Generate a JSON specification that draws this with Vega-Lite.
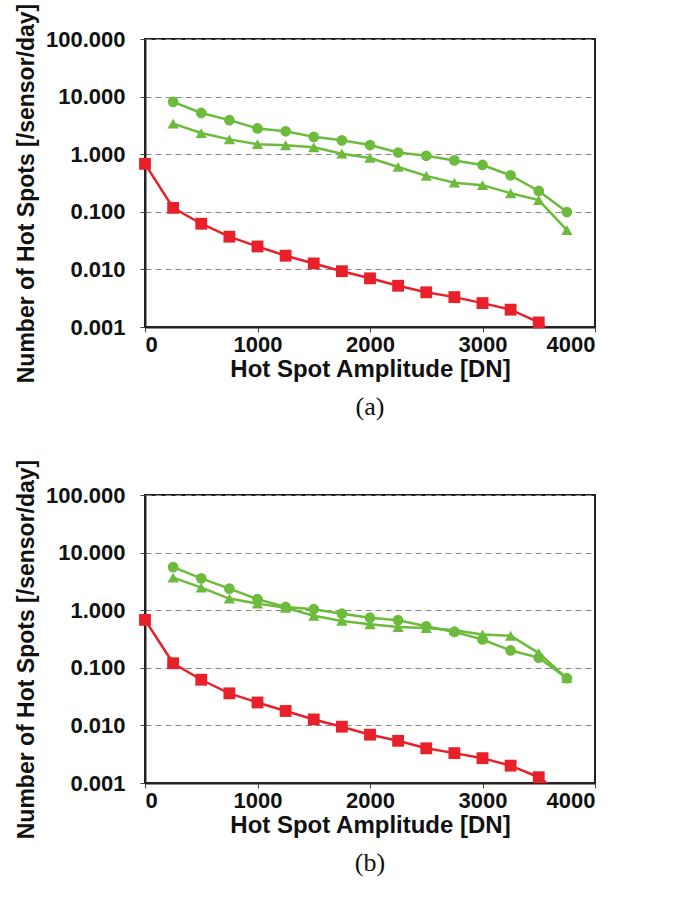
{
  "$schema": "https://vega.github.io/schema/vega-lite/v6.json",
  "background": "white",
  "padding": {"left": 14, "top": 2, "right": 5, "bottom": 5},
  "spacing": 37,
  "config": {
    "font": "Liberation Sans",
    "view": {"stroke": "#222222", "strokeWidth": 2},
    "axis": {
      "labelFont": "Liberation Sans",
      "labelFontSize": 22,
      "labelFontWeight": "bold",
      "labelColor": "#111111",
      "titleFont": "Liberation Sans",
      "titleFontSize": 24,
      "titleFontWeight": "bold",
      "titleColor": "#111111",
      "domainColor": "#222222",
      "domainWidth": 2,
      "tickColor": "#444444",
      "tickSize": 5
    },
    "axisX": {"labelPadding": 2, "titlePadding": 2, "format": "d"},
    "axisY": {"labelPadding": 15, "titlePadding": 7, "titleY": 154, "titleFontSize": 23, "format": ".3f"}
  },
  "datasets": {
    "a": [
      {"series": "Series 1", "amplitude": 250, "count": 8.1},
      {"series": "Series 1", "amplitude": 500, "count": 5.2},
      {"series": "Series 1", "amplitude": 750, "count": 3.9},
      {"series": "Series 1", "amplitude": 1000, "count": 2.8},
      {"series": "Series 1", "amplitude": 1250, "count": 2.5},
      {"series": "Series 1", "amplitude": 1500, "count": 2.0},
      {"series": "Series 1", "amplitude": 1750, "count": 1.74},
      {"series": "Series 1", "amplitude": 2000, "count": 1.44},
      {"series": "Series 1", "amplitude": 2250, "count": 1.07},
      {"series": "Series 1", "amplitude": 2500, "count": 0.94},
      {"series": "Series 1", "amplitude": 2750, "count": 0.78},
      {"series": "Series 1", "amplitude": 3000, "count": 0.65},
      {"series": "Series 1", "amplitude": 3250, "count": 0.43},
      {"series": "Series 1", "amplitude": 3500, "count": 0.23},
      {"series": "Series 1", "amplitude": 3750, "count": 0.099},
      {"series": "Series 2", "amplitude": 250, "count": 3.4},
      {"series": "Series 2", "amplitude": 500, "count": 2.33},
      {"series": "Series 2", "amplitude": 750, "count": 1.81},
      {"series": "Series 2", "amplitude": 1000, "count": 1.49},
      {"series": "Series 2", "amplitude": 1250, "count": 1.43},
      {"series": "Series 2", "amplitude": 1500, "count": 1.32},
      {"series": "Series 2", "amplitude": 1750, "count": 1.02},
      {"series": "Series 2", "amplitude": 2000, "count": 0.86},
      {"series": "Series 2", "amplitude": 2250, "count": 0.6},
      {"series": "Series 2", "amplitude": 2500, "count": 0.42},
      {"series": "Series 2", "amplitude": 2750, "count": 0.32},
      {"series": "Series 2", "amplitude": 3000, "count": 0.29},
      {"series": "Series 2", "amplitude": 3250, "count": 0.21},
      {"series": "Series 2", "amplitude": 3500, "count": 0.16},
      {"series": "Series 2", "amplitude": 3750, "count": 0.048},
      {"series": "Series 3", "amplitude": 0, "count": 0.68},
      {"series": "Series 3", "amplitude": 250, "count": 0.117},
      {"series": "Series 3", "amplitude": 500, "count": 0.062},
      {"series": "Series 3", "amplitude": 750, "count": 0.037},
      {"series": "Series 3", "amplitude": 1000, "count": 0.025},
      {"series": "Series 3", "amplitude": 1250, "count": 0.0173},
      {"series": "Series 3", "amplitude": 1500, "count": 0.0127},
      {"series": "Series 3", "amplitude": 1750, "count": 0.0093},
      {"series": "Series 3", "amplitude": 2000, "count": 0.007},
      {"series": "Series 3", "amplitude": 2250, "count": 0.0052},
      {"series": "Series 3", "amplitude": 2500, "count": 0.004},
      {"series": "Series 3", "amplitude": 2750, "count": 0.0033},
      {"series": "Series 3", "amplitude": 3000, "count": 0.0026},
      {"series": "Series 3", "amplitude": 3250, "count": 0.002},
      {"series": "Series 3", "amplitude": 3500, "count": 0.0012},
      {"series": "Series 3", "amplitude": 3750, "count": 0.00055}
    ],
    "b": [
      {"series": "Series 1", "amplitude": 250, "count": 5.6},
      {"series": "Series 1", "amplitude": 500, "count": 3.57},
      {"series": "Series 1", "amplitude": 750, "count": 2.37},
      {"series": "Series 1", "amplitude": 1000, "count": 1.55},
      {"series": "Series 1", "amplitude": 1250, "count": 1.14},
      {"series": "Series 1", "amplitude": 1500, "count": 1.04},
      {"series": "Series 1", "amplitude": 1750, "count": 0.87},
      {"series": "Series 1", "amplitude": 2000, "count": 0.74},
      {"series": "Series 1", "amplitude": 2250, "count": 0.67},
      {"series": "Series 1", "amplitude": 2500, "count": 0.525},
      {"series": "Series 1", "amplitude": 2750, "count": 0.42},
      {"series": "Series 1", "amplitude": 3000, "count": 0.31},
      {"series": "Series 1", "amplitude": 3250, "count": 0.2},
      {"series": "Series 1", "amplitude": 3500, "count": 0.15},
      {"series": "Series 1", "amplitude": 3750, "count": 0.066},
      {"series": "Series 2", "amplitude": 250, "count": 3.67},
      {"series": "Series 2", "amplitude": 500, "count": 2.46},
      {"series": "Series 2", "amplitude": 750, "count": 1.59},
      {"series": "Series 2", "amplitude": 1000, "count": 1.3},
      {"series": "Series 2", "amplitude": 1250, "count": 1.1},
      {"series": "Series 2", "amplitude": 1500, "count": 0.8},
      {"series": "Series 2", "amplitude": 1750, "count": 0.65},
      {"series": "Series 2", "amplitude": 2000, "count": 0.57},
      {"series": "Series 2", "amplitude": 2250, "count": 0.51},
      {"series": "Series 2", "amplitude": 2500, "count": 0.49},
      {"series": "Series 2", "amplitude": 2750, "count": 0.45},
      {"series": "Series 2", "amplitude": 3000, "count": 0.38},
      {"series": "Series 2", "amplitude": 3250, "count": 0.36},
      {"series": "Series 2", "amplitude": 3500, "count": 0.18},
      {"series": "Series 2", "amplitude": 3750, "count": 0.066},
      {"series": "Series 3", "amplitude": 0, "count": 0.68},
      {"series": "Series 3", "amplitude": 250, "count": 0.12},
      {"series": "Series 3", "amplitude": 500, "count": 0.062},
      {"series": "Series 3", "amplitude": 750, "count": 0.036},
      {"series": "Series 3", "amplitude": 1000, "count": 0.025},
      {"series": "Series 3", "amplitude": 1250, "count": 0.0178},
      {"series": "Series 3", "amplitude": 1500, "count": 0.0127},
      {"series": "Series 3", "amplitude": 1750, "count": 0.0095},
      {"series": "Series 3", "amplitude": 2000, "count": 0.0069},
      {"series": "Series 3", "amplitude": 2250, "count": 0.0054},
      {"series": "Series 3", "amplitude": 2500, "count": 0.004},
      {"series": "Series 3", "amplitude": 2750, "count": 0.0033},
      {"series": "Series 3", "amplitude": 3000, "count": 0.0027},
      {"series": "Series 3", "amplitude": 3250, "count": 0.002},
      {"series": "Series 3", "amplitude": 3500, "count": 0.00126},
      {"series": "Series 3", "amplitude": 3750, "count": 0.00055}
    ]
  },
  "vconcat": [
    {
      "width": 450,
      "height": 288,
      "data": {"name": "a"},
      "title": {"text": "(a)", "orient": "bottom", "font": "Liberation Serif", "fontSize": 26, "fontWeight": "normal", "color": "#111111", "offset": 11},
      "encoding": {
        "x": {"field": "amplitude", "type": "quantitative", "scale": {"domain": [0, 4000]}, "axis": {"values": [0, 1000, 2000, 3000, 4000], "title": "Hot Spot Amplitude [DN]", "grid": false}},
        "y": {"field": "count", "type": "quantitative", "scale": {"type": "log", "domain": [0.001, 100]}, "axis": {"values": [0.001, 0.01, 0.1, 1, 10, 100], "title": "Number of Hot Spots [/sensor/day]", "grid": true, "gridDash": [6, 4], "gridColor": "#888888", "gridWidth": 1.2}},
        "color": {"field": "series", "type": "nominal", "scale": {"domain": ["Series 1", "Series 2", "Series 3"], "range": ["#6cbb3c", "#6cbb3c", "#e8202a"]}, "legend": null}
      },
      "layer": [
        {"mark": {"type": "line", "strokeWidth": 2.5, "clip": true}},
        {"transform": [{"filter": "datum.count >= 0.001"}],
         "mark": {"type": "point", "filled": true, "opacity": 1, "clip": false},
         "encoding": {
           "shape": {"field": "series", "type": "nominal", "scale": {"domain": ["Series 1", "Series 2", "Series 3"], "range": ["circle", "triangle-up", "square"]}, "legend": null},
           "size": {"field": "series", "type": "nominal", "scale": {"domain": ["Series 1", "Series 2", "Series 3"], "range": [115, 140, 90]}, "legend": null}}}
      ]
    },
    {
      "width": 450,
      "height": 288,
      "data": {"name": "b"},
      "title": {"text": "(b)", "orient": "bottom", "font": "Liberation Serif", "fontSize": 26, "fontWeight": "normal", "color": "#111111", "offset": 11},
      "encoding": {
        "x": {"field": "amplitude", "type": "quantitative", "scale": {"domain": [0, 4000]}, "axis": {"values": [0, 1000, 2000, 3000, 4000], "title": "Hot Spot Amplitude [DN]", "grid": false}},
        "y": {"field": "count", "type": "quantitative", "scale": {"type": "log", "domain": [0.001, 100]}, "axis": {"values": [0.001, 0.01, 0.1, 1, 10, 100], "title": "Number of Hot Spots [/sensor/day]", "grid": true, "gridDash": [6, 4], "gridColor": "#888888", "gridWidth": 1.2}},
        "color": {"field": "series", "type": "nominal", "scale": {"domain": ["Series 1", "Series 2", "Series 3"], "range": ["#6cbb3c", "#6cbb3c", "#e8202a"]}, "legend": null}
      },
      "layer": [
        {"mark": {"type": "line", "strokeWidth": 2.5, "clip": true}},
        {"transform": [{"filter": "datum.count >= 0.001"}],
         "mark": {"type": "point", "filled": true, "opacity": 1, "clip": false},
         "encoding": {
           "shape": {"field": "series", "type": "nominal", "scale": {"domain": ["Series 1", "Series 2", "Series 3"], "range": ["circle", "triangle-up", "square"]}, "legend": null},
           "size": {"field": "series", "type": "nominal", "scale": {"domain": ["Series 1", "Series 2", "Series 3"], "range": [115, 140, 90]}, "legend": null}}}
      ]
    }
  ]
}
